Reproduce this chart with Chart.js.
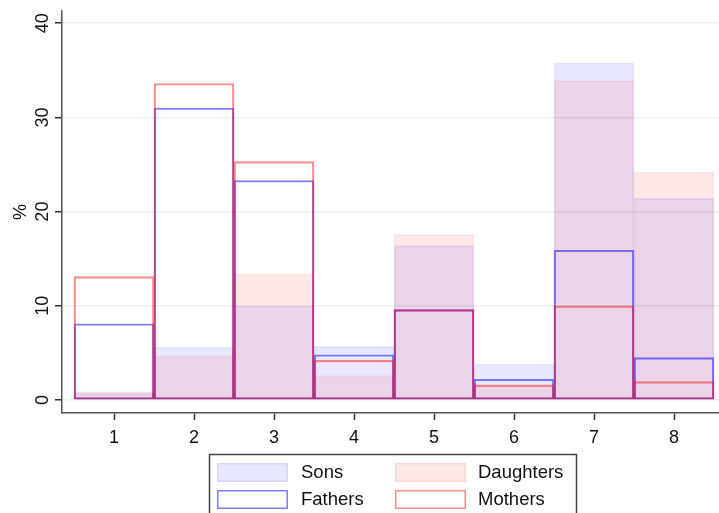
<!DOCTYPE html>
<html>
<head>
<meta charset="utf-8">
<script src="https://cdn.jsdelivr.net/npm/chart.js@4/dist/chart.umd.min.js"></script>
<style>
  html, body { margin: 0; padding: 0; background: #fff; }
</style>
</head>
<body>
<canvas id="mainChart" width="719" height="513"></canvas>
<script>
const categories = [1, 2, 3, 4, 5, 6, 7, 8];
const sons      = [0.7, 5.6, 10.0, 5.7, 16.4, 3.8, 35.8, 21.4];
const daughters = [0.9, 4.7, 13.4, 2.6, 17.6, 1.5, 33.9, 24.2];
const fathers   = [8.1, 31.0, 23.3, 4.8, 9.6, 2.2, 15.9, 4.5];
const mothers   = [13.1, 33.6, 25.3, 4.2, 9.6, 1.6, 10.0, 1.95];
const yTicks = [0, 10, 20, 30, 40];

const FONT = "'Liberation Sans', Arial, sans-serif";

function points(vals) {
    return categories.map((c, i) => ({ x: c, y: vals[i] }));
}

const datasets = [
    { label: "Sons", data: points(sons), backgroundColor: "rgba(0,0,255,0.09)",
      borderColor: "rgba(0,0,255,0.08)", borderWidth: 1, order: 4 },
    { label: "Daughters", data: points(daughters), backgroundColor: "rgba(255,0,0,0.09)",
      borderColor: "rgba(255,0,0,0.08)", borderWidth: 1, order: 3 },
    { label: "Fathers", data: points(fathers), backgroundColor: "rgba(0,0,0,0)",
      borderColor: "rgba(0,0,255,0.5)", borderWidth: 1.5, order: 2 },
    { label: "Mothers", data: points(mothers), backgroundColor: "rgba(0,0,0,0)",
      borderColor: "rgba(255,0,0,0.45)", borderWidth: 1.5, order: 1 }
];
datasets.forEach(d => {
    d.grouped = false;
    d.barPercentage = 1;
    d.categoryPercentage = 1;
    d.borderSkipped = false;
});

// legend box drawn like the stata one: 2 columns, framed
const boxLegend = {
    id: "boxLegend",
    afterDraw(chart) {
        const ctx = chart.ctx;
        ctx.save();
        ctx.strokeStyle = "#444";
        ctx.lineWidth = 1.5;
        ctx.strokeRect(209.5, 454.5, 367, 80);
        const cols = [217, 395];
        const rows = [463, 490];
        const textX = [301, 478];
        chart.data.datasets.forEach((ds, i) => {
            const c = i % 2, r = Math.floor(i / 2);
            const x = cols[c], y = rows[r];
            ctx.fillStyle = "#fff";
            ctx.fillRect(x, y, 71, 19);
            ctx.fillStyle = ds.backgroundColor;
            ctx.fillRect(x, y, 71, 19);
            ctx.strokeStyle = ds.borderColor;
            ctx.lineWidth = 1.5;
            ctx.strokeRect(x + 0.75, y + 0.75, 69.5, 17.5);
            ctx.fillStyle = "#111";
            ctx.font = "18.5px " + FONT;
            ctx.textBaseline = "middle";
            ctx.textAlign = "left";
            ctx.fillText(ds.label, textX[c], y + 10);
        });
        ctx.restore();
    }
};

new Chart(document.getElementById("mainChart"), {
    type: "bar",
    data: { datasets: datasets },
    options: {
        responsive: false,
        animation: false,
        layout: { padding: { top: 11, right: 0, bottom: 60, left: 0 } },
        plugins: { legend: { display: false }, tooltip: { enabled: false } },
        scales: {
            x: {
                type: "linear",
                offset: false,
                min: 0.35,
                max: 8.5625,
                afterBuildTicks: s => { s.ticks = categories.map(v => ({ value: v })); },
                afterFit: s => { s.height = 40; s.paddingLeft = 0; s.paddingRight = 0; },
                grid: { display: true, offset: false, drawOnChartArea: false, tickLength: 7, tickColor: "#333", tickWidth: 1.5 },
                border: { color: "#555", width: 1.5 },
                ticks: { color: "#111", font: { size: 18, family: FONT }, padding: 7, maxRotation: 0 }
            },
            y: {
                min: -1.38,
                max: 41.3,
                afterBuildTicks: s => { s.ticks = yTicks.map(v => ({ value: v })); },
                afterFit: s => { s.width = 62; s.paddingTop = 0; s.paddingBottom = 0; },
                grid: { color: "#eaf1f3", lineWidth: 1.5, tickLength: 7, tickColor: "#333", tickWidth: 1.5 },
                border: { color: "#555", width: 1.5 },
                ticks: { color: "#111", font: { size: 18, family: FONT }, padding: 2,
                         minRotation: 90, maxRotation: 90, crossAlign: "center" },
                title: { display: true, text: "%", color: "#111",
                         font: { size: 18, family: FONT }, padding: { top: 10, bottom: 0 } }
            }
        }
    },
    plugins: [boxLegend]
});
</script>
</body>
</html>
